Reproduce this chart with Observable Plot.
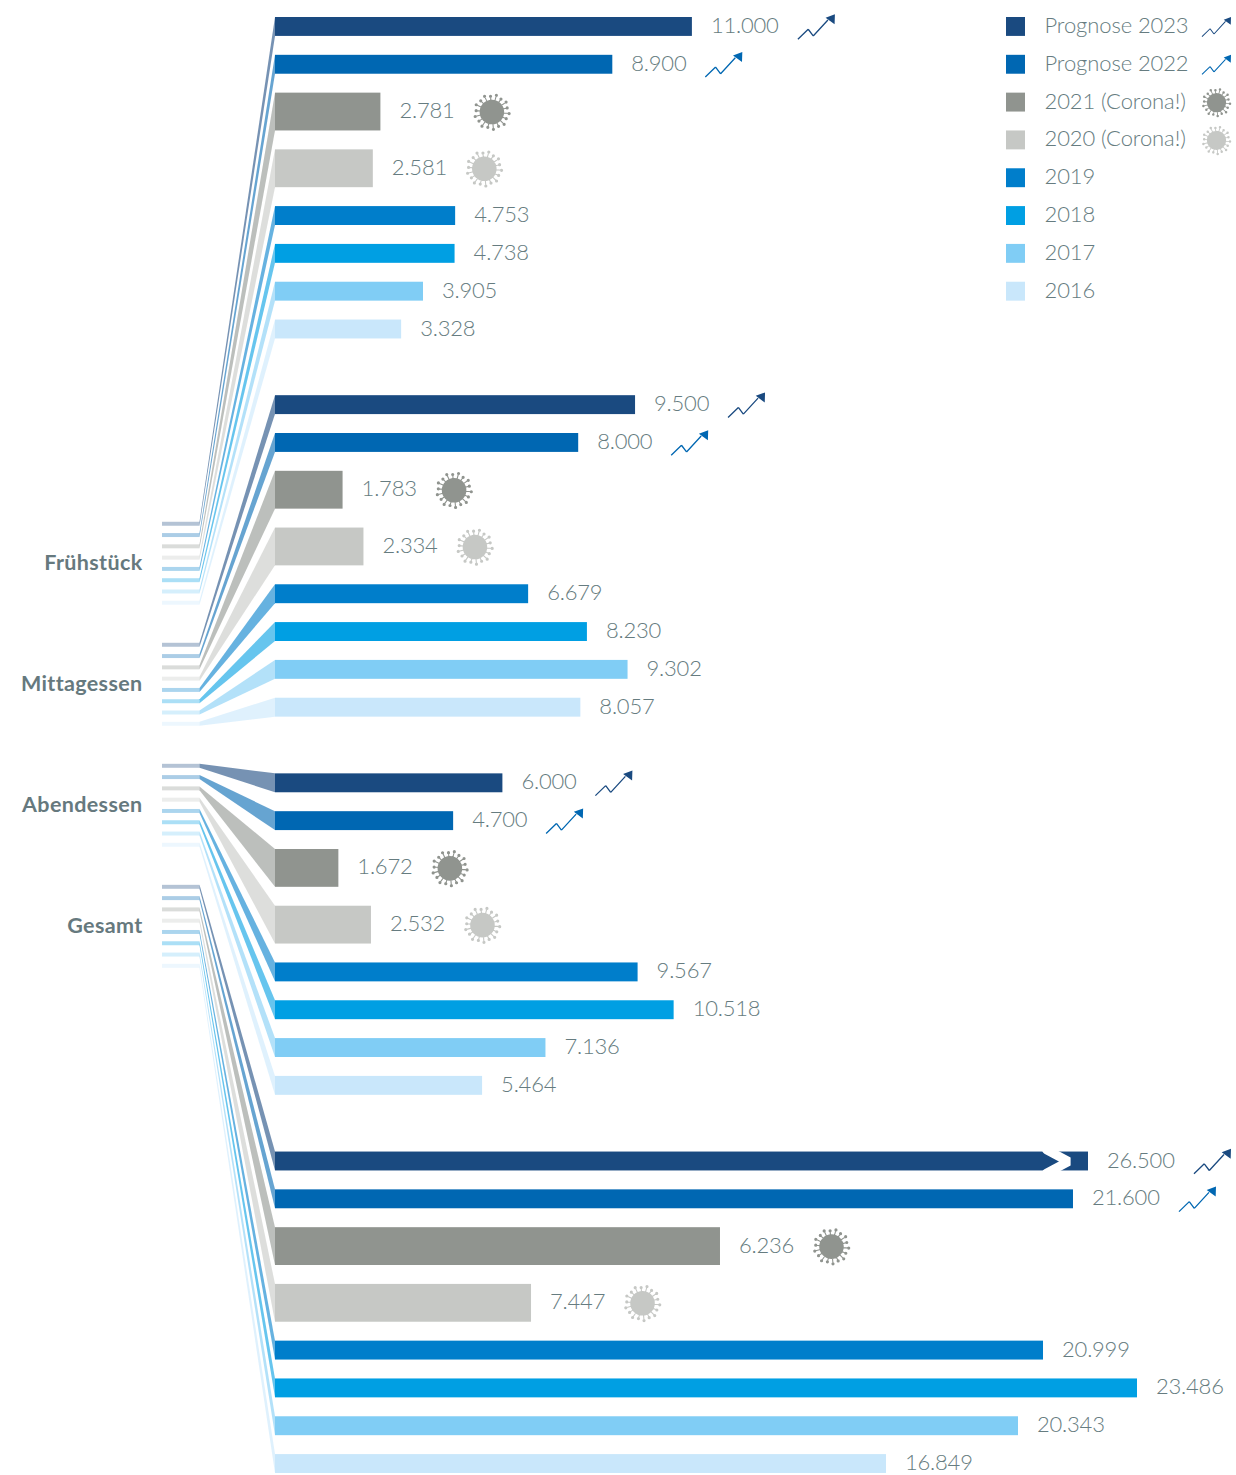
<!DOCTYPE html>
<html lang="de">
<head>
<meta charset="utf-8">
<title>Prognose</title>
<script src="https://cdn.jsdelivr.net/npm/d3@7"></script>
<script src="https://cdn.jsdelivr.net/npm/@observablehq/plot@0.6"></script>
<style>
html,body{margin:0;padding:0;background:#fff}
svg{display:block}
.val,.val text{letter-spacing:-0.2px}
.leg,.leg text{letter-spacing:-0.1px}
.grp,.grp text{letter-spacing:0.35px}
</style>
</head>
<body>
<div id="chart"></div>
<script>
const meals = ["Frühstück", "Mittagessen", "Abendessen", "Gesamt"];
const series = ["Prognose 2023", "Prognose 2022", "2021 (Corona!)", "2020 (Corona!)", "2019", "2018", "2017", "2016"];
const seriesColors = ["#1a4a80", "#0067b2", "#90948f", "#c6c8c5", "#007ecb", "#009fe3", "#80cdf5", "#c9e7fb"];
const fruehstueck = [11000, 8900, 2781, 2581, 4753, 4738, 3905, 3328];
const mittagessen = [9500, 8000, 1783, 2334, 6679, 8230, 9302, 8057];
const abendessen = [6000, 4700, 1672, 2532, 9567, 10518, 7136, 5464];
const gesamt = [26500, 21600, 6236, 7447, 20999, 23486, 20343, 16849];
// The Gesamt bars are not drawn to the same scale in the source: lengths
const gesamtDrawn = [21451, 21055, 11741, 6755, 20264, 22744, 19604, 16121];

const groupValues = [fruehstueck, mittagessen, abendessen, gesamt];
const rowWeight = s => (s === 2 || s === 3) ? 2 : 1;

// Scale constants
const pxPerUnit = 0.0379, barLeft = 275;
const units = p => p / pxPerUnit;             // pixels of offset -> value units
const atPx = p => units(p - barLeft);         // page x -> value units

// Row layout in "slot" units
const rows = [];
let cursor = 0;
groupValues.forEach((vals, g) => {
  vals.forEach((v, s) => {
    const w = rowWeight(s);
    const stubMid = 26.8 + g * 6.4 + s * 0.597;
    rows.push({
      meal: meals[g], g, s, series: series[s], value: v,
      label: v.toLocaleString("de-DE"),
      end: g === 3 ? gesamtDrawn[s] : v,
      top: cursor, bottom: cursor + w, mid: cursor + w / 2,
      stubTop: stubMid - 0.105, stubBottom: stubMid + 0.105, stubMid
    });
    cursor += w + 1;
  });
  cursor += 2;
});

const stubLeft = atPx(162), stubRight = atPx(199.5);
const connectors = rows.flatMap(r => [
  {key: r.g + "-" + r.s, series: r.series, x: stubRight, y1: r.stubTop, y2: r.stubBottom},
  {key: r.g + "-" + r.s, series: r.series, x: 0, y1: r.top, y2: r.bottom}
]);

const groupLabels = meals.map((m, g) => ({meal: m, y: 26.8 + g * 6.4 + 3.5 * 0.597 - 0.05}));
const legend = series.map((name, s) => ({series: name, top: 2 * s, bottom: 2 * s + 1, mid: 2 * s + 0.5}));

const iconX = r => r.end + units(r.label.length > 5 ? 124 : 111);
const isTrend = d => d.series.startsWith("Prognose");
const isVirus = d => d.series.includes("Corona");

// Break mark on the first Gesamt bar
const brk = rows.find(r => r.g === 3 && r.s === 0);
const breakMark = [
  {x: atPx(1046), y: brk.top - 0.12},
  {x: atPx(1068), y: brk.mid},
  {x: atPx(1046), y: brk.bottom + 0.12}
];

const R = 18.5;
function quad(ctx, s, a, b, w) {
  const dx = b[0] - a[0], dy = b[1] - a[1], l = Math.hypot(dx, dy);
  const nx = -dy / l * w, ny = dx / l * w;
  ctx.moveTo(s * (a[0] - nx), s * (a[1] - ny));
  ctx.lineTo(s * (b[0] - nx), s * (b[1] - ny));
  ctx.lineTo(s * (b[0] + nx), s * (b[1] + ny));
  ctx.lineTo(s * (a[0] + nx), s * (a[1] + ny));
  ctx.closePath();
}
const trendSymbol = {
  draw(ctx, size) {
    const s = Math.sqrt(size / Math.PI) / R;
    const pts = [[-18.5, 12.3], [-8.2, 2.3], [-3.2, 9], [11.5, -7]];
    for (let i = 0; i < pts.length - 1; i++) quad(ctx, s, pts[i], pts[i + 1], 0.65);
    ctx.moveTo(18.5 * s, -12.7 * s);
    ctx.lineTo(18.2 * s, -2.7 * s);
    ctx.lineTo(9.2 * s, -9.3 * s);
    ctx.closePath();
  }
};
const virusSymbol = {
  draw(ctx, size) {
    const s = Math.sqrt(size / Math.PI) / R;
    ctx.moveTo(12.3 * s, 0);
    ctx.arc(0, 0, 12.3 * s, 0, 2 * Math.PI);
    ctx.closePath();
    const n = 18;
    for (let i = 0; i < n; i++) {
      const t = (i + 0.25) / n * 2 * Math.PI;
      const c = Math.cos(t), si = Math.sin(t);
      const r2 = i % 2 ? 15.8 : 17.3;
      quad(ctx, s, [11.5 * c, 11.5 * si], [r2 * c, r2 * si], 0.55);
      const ex = r2 * c, ey = r2 * si;
      ctx.moveTo((ex + 1.6) * s, ey * s);
      ctx.arc(ex * s, ey * s, 1.6 * s, 0, 2 * Math.PI);
      ctx.closePath();
    }
  }
};

const font = "Lato";
const textFill = "#667c80";
const legendRectL = atPx(1006), legendRectR = atPx(1025), legendText = atPx(1044), legendIcon = atPx(1216);

const chart = Plot.plot({
  width: 1236,
  height: 1475,
  margin: 0,
  x: {domain: [0, 20000], range: [barLeft, barLeft + 20000 * pxPerUnit], axis: null},
  y: {domain: [0, 77], range: [17, 1473], axis: null},
  color: {type: "ordinal", domain: series, range: seriesColors},
  style: {fontFamily: font, background: "#fff", overflow: "visible"},
  marks: [
    Plot.rect(rows, {x1: stubLeft, x2: stubRight, y1: "stubTop", y2: "stubBottom", fill: "series", fillOpacity: 0.33}),
    Plot.area(connectors, {x1: "x", y1: "y1", y2: "y2", z: "key", fill: "series", fillOpacity: 0.6, curve: "linear"}),
    Plot.rect(rows, {x1: 0, x2: "end", y1: "top", y2: "bottom", fill: "series"}),
    Plot.line(breakMark, {x: "x", y: "y", stroke: "#fff", strokeWidth: 9, strokeLinejoin: "miter", curve: "linear"}),
    Plot.text(rows, {x: "end", y: "mid", text: "label", dx: 18.5, dy: -1, textAnchor: "start", fill: textFill, fontSize: 22, fontWeight: 300, className: "val"}),
    Plot.dot(rows.filter(isTrend), {x: iconX, y: "mid", r: R, symbol: trendSymbol, fill: "series", stroke: "none"}),
    Plot.dot(rows.filter(isVirus), {x: iconX, y: "mid", r: R, symbol: virusSymbol, fill: "series", stroke: "none"}),
    Plot.text(groupLabels, {x: atPx(142), y: "y", text: "meal", textAnchor: "end", fill: "#66797e", fontSize: 21.5, fontWeight: 700, className: "grp"}),
    Plot.rect(legend, {x1: legendRectL, x2: legendRectR, y1: "top", y2: "bottom", fill: "series"}),
    Plot.text(legend, {x: legendText, y: "mid", text: "series", dy: -1, textAnchor: "start", fill: textFill, fontSize: 22, fontWeight: 300, className: "leg"}),
    Plot.dot(legend.filter(isTrend), {x: legendIcon, y: "mid", r: 14.5, symbol: trendSymbol, fill: "series", stroke: "none"}),
    Plot.dot(legend.filter(isVirus), {x: legendIcon, y: "mid", r: 14.5, symbol: virusSymbol, fill: "series", stroke: "none"})
  ]
});
document.getElementById("chart").appendChild(chart);
</script>
</body>
</html>
